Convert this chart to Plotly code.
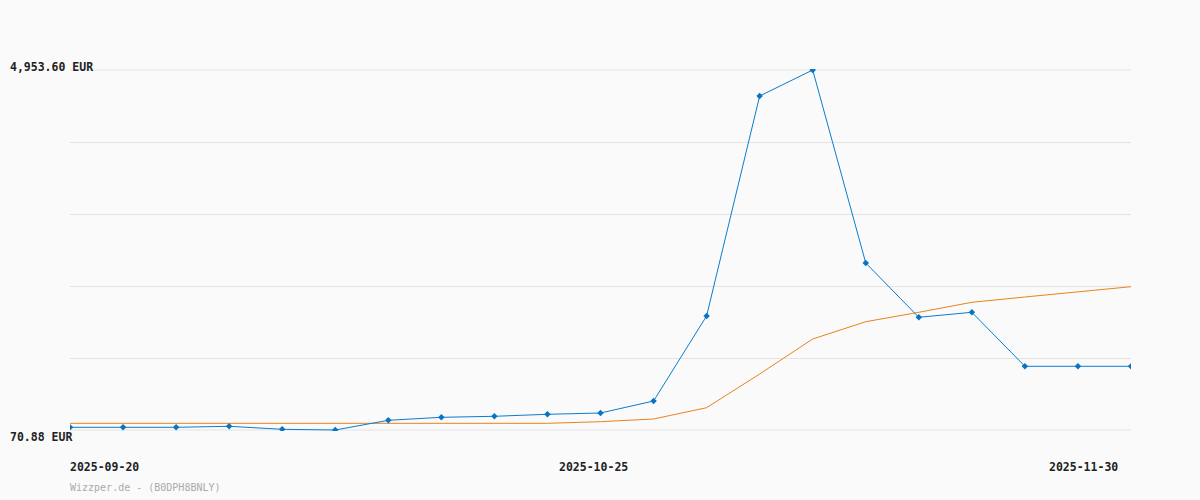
import plotly.graph_objects as go

# --- data ---
idx = list(range(21))
price = [107.5, 107.5, 107.5, 121.1, 80.4, 70.88, 202.4, 243.1, 256.7, 283.8, 301.5,
         464.2, 1617.1, 4601.0, 4953.6, 2335.9, 1599.5, 1667.3, 934.8, 934.8, 934.8]
avg = [161.8, 161.8, 161.8, 161.8, 161.8, 161.8, 161.8, 161.8, 161.8, 161.8, 183.5,
       220.1, 373.3, 830.4, 1305.1, 1539.7, 1667.3, 1802.9, 1874.8, 1942.6, 2014.5]
date_labels = ["2025-09-20", "2025-10-25", "2025-11-30"]
y_min, y_max = 70.88, 4953.60
y_labels = ["70.88 EUR", "4,953.60 EUR"]
footer = "Wizzper.de - (B0DPH8BNLY)"

FONT = "DejaVu Sans Mono"
W = 1200
L, R = 70, 1131
PW = R - L
GRID = "#e3e3e3"

fig = go.Figure()
fig.add_trace(go.Scatter(x=idx, y=avg, mode="lines",
                         line=dict(color="#e8841a", width=1), hoverinfo="skip"))
fig.add_trace(go.Scatter(x=idx, y=price, mode="lines+markers",
                         line=dict(color="#0a7ccf", width=1),
                         marker=dict(symbol="diamond", size=5, color="#0a74c4")))

step = (y_max - y_min) / 5
pad = (y_max - y_min) / 360 * 1.0
fig.update_layout(
    width=1200, height=500,
    margin=dict(l=L, r=W - R, t=70 - 1, b=70 - 1),
    paper_bgcolor="#fafafa", plot_bgcolor="#fafafa",
    showlegend=False,
    xaxis=dict(range=[0, 20], showgrid=False, zeroline=False, showticklabels=False,
               showline=False, fixedrange=True),
    yaxis=dict(range=[y_min - pad, y_max + pad], tick0=y_min, dtick=step, showgrid=True,
               gridcolor=GRID, gridwidth=1, zeroline=False,
               showticklabels=False, showline=False, fixedrange=True),
)
for yv in (y_min, y_max):
    fig.add_shape(type="line", xref="paper", yref="y", x0=0, x1=1, y0=yv, y1=yv,
                  line=dict(color=GRID, width=1), layer="below")

PH = 362.0
def px(xp):
    return (xp - L) / PW

def py(yp):
    return (431 - yp) / PH

ann = []
lab_font = dict(family=FONT, size=11.5, color="#222222", weight="bold")
ann.append(dict(x=px(8), y=py(67), xref="paper", yref="paper", text=y_labels[1],
                xanchor="left", yanchor="middle", showarrow=False, font=lab_font))
ann.append(dict(x=px(8), y=py(437), xref="paper", yref="paper", text=y_labels[0],
                xanchor="left", yanchor="middle", showarrow=False, font=lab_font))
for xp, t in [(68, date_labels[0]), (557, date_labels[1]), (1047, date_labels[2])]:
    ann.append(dict(x=px(xp), y=py(467), xref="paper", yref="paper", text=t,
                    xanchor="left", yanchor="middle", showarrow=False, font=lab_font))
ann.append(dict(x=px(68), y=py(487), xref="paper", yref="paper", text=footer,
                xanchor="left", yanchor="middle", showarrow=False,
                font=dict(family=FONT, size=10, color="#aaaaaa")))
fig.update_layout(annotations=ann)

fig.write_html("out.html", config={"displayModeBar": False},
               post_script="document.body.style.margin='0';document.body.style.background='#fafafa';")
